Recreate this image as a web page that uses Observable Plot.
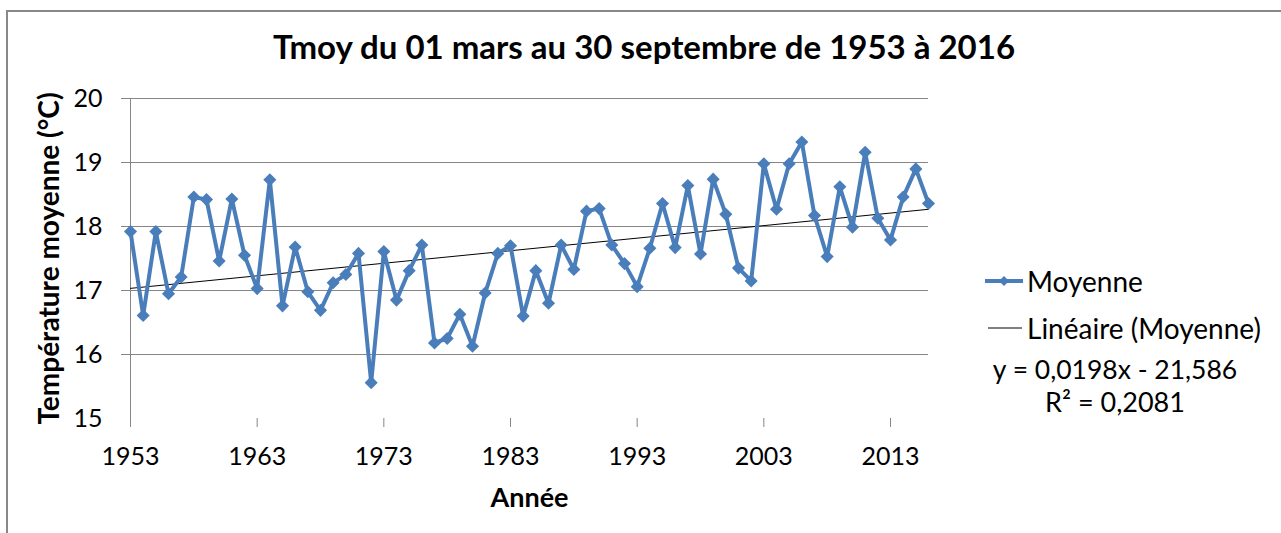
<!DOCTYPE html>
<html>
<head>
<meta charset="utf-8">
<script src="https://cdn.jsdelivr.net/npm/d3@7"></script>
<script src="https://cdn.jsdelivr.net/npm/@observablehq/plot@0.6"></script>
<style>
  html, body { margin: 0; padding: 0; background: #fff; }
  #wrap { position: relative; width: 1281px; height: 533px; overflow: hidden; font-family: Lato, sans-serif; }
  #frame { position: absolute; left: 6px; top: 10px; width: 1300px; height: 600px; border-top: 2px solid #888; border-left: 2px solid #888; }
  #title { position: absolute; left: 0; top: 26px; width: 1288px; text-align: center; font-weight: bold; font-size: 33px; line-height: 40px; color: #000; }
  #chart { position: absolute; left: 0; top: 70px; }
  .leg { position: absolute; color: #000; font-size: 28px; line-height: 32px; white-space: nowrap; }
  g[aria-label="y-axis label"] text { font-weight: bold; font-size: 28px; }
  g[aria-label="x-axis label"] text { font-weight: bold; font-size: 27px; }
</style>
</head>
<body>
<div id="wrap">
  <div id="frame"></div>
  <div id="title"></div>
  <div id="chart"></div>
  <svg style="position:absolute;left:0;top:0" width="1281" height="533">
    <line x1="985" x2="1023" y1="281" y2="281" stroke="#4a7ebb" stroke-width="4"/>
    <path d="M1004,276 L1009,281 L1004,286 L999,281 Z" fill="#4a7ebb"/>
    <line x1="988" x2="1022" y1="328" y2="328" stroke="#000" stroke-width="1"/>
  </svg>
  <div class="leg" id="l1" style="left:1027px; top:265px;"></div>
  <div class="leg" id="l2" style="left:1027px; top:312px;"></div>
  <div class="leg" id="l3" style="left:975px; width:280px; text-align:center; top:353px; font-size:26.5px;"></div>
  <div class="leg" id="l4" style="left:975px; width:280px; text-align:center; top:386px; font-size:27px;"></div>
</div>
<script>
const title = "Tmoy du 01 mars au 30 septembre de 1953 à 2016";
const xLabel = "Année";
const yLabel = "Température moyenne (°C)";
const seriesName = "Moyenne";
const trendName = "Linéaire (Moyenne)";
const equation = "y = 0,0198x - 21,586";
const r2 = "R² = 0,2081";

const years = [1953,1954,1955,1956,1957,1958,1959,1960,1961,1962,1963,1964,1965,1966,1967,1968,1969,1970,1971,1972,1973,1974,1975,1976,1977,1978,1979,1980,1981,1982,1983,1984,1985,1986,1987,1988,1989,1990,1991,1992,1993,1994,1995,1996,1997,1998,1999,2000,2001,2002,2003,2004,2005,2006,2007,2008,2009,2010,2011,2012,2013,2014,2015,2016];
const tmoy = [17.92,16.61,17.92,16.95,17.21,18.46,18.42,17.46,18.43,17.55,17.03,18.73,16.76,17.68,16.98,16.69,17.12,17.25,17.58,15.56,17.61,16.85,17.31,17.71,16.18,16.25,16.63,16.13,16.96,17.58,17.70,16.60,17.31,16.80,17.71,17.33,18.24,18.28,17.71,17.42,17.06,17.66,18.36,17.67,18.64,17.57,18.74,18.19,17.35,17.15,18.98,18.27,18.98,19.32,18.17,17.53,18.62,17.99,19.16,18.13,17.79,18.46,18.90,18.36];
const xTicks = [1953,1963,1973,1983,1993,2003,2013];
const yTicks = [15,16,17,18,19,20];
const gridValues = [16,17,18,19,20];

const data = years.map((y, i) => ({annee: y, t: tmoy[i]}));

document.getElementById("title").textContent = title;
document.getElementById("l1").textContent = seriesName;
document.getElementById("l2").textContent = trendName;
document.getElementById("l3").textContent = equation;
document.getElementById("l4").textContent = r2;

const blue = "#4a7ebb";
const grey = "#868686";

const chart = Plot.plot({
  width: 960,
  height: 463,
  marginTop: 28,
  marginLeft: 130,
  marginRight: 32,
  marginBottom: 115,
  style: {fontFamily: "Lato, sans-serif", fontSize: "25px", color: "#000", background: "transparent", overflow: "visible"},
  x: {domain: [1953, 2016]},
  y: {domain: [15, 20]},
  marks: [
    Plot.ruleY(gridValues, {stroke: grey, strokeWidth: 1, insetLeft: -9}),
    Plot.ruleX([1953], {stroke: grey, strokeWidth: 1}),
    Plot.axisX({ticks: xTicks, tickSize: 9, tickPadding: 20, tickFormat: d => String(d), stroke: grey, fill: "#000",
      label: xLabel, labelAnchor: "center", labelArrow: false, labelOffset: 88}),
    Plot.axisY({ticks: yTicks, tickSize: 0, tickPadding: 28, tickFormat: d => String(d), fill: "#000",
      label: yLabel, labelAnchor: "center", labelArrow: false, labelOffset: 91}),
    Plot.linearRegressionY(data, {x: "annee", y: "t", ci: 0, stroke: "#000", strokeWidth: 1}),
    Plot.line(data, {x: "annee", y: "t", stroke: blue, strokeWidth: 4, strokeLinejoin: "round"}),
    Plot.dot(data, {x: "annee", y: "t", symbol: "diamond2", r: 5.9, fill: blue, stroke: "none"})
  ]
});
document.getElementById("chart").appendChild(chart);
</script>
</body>
</html>
